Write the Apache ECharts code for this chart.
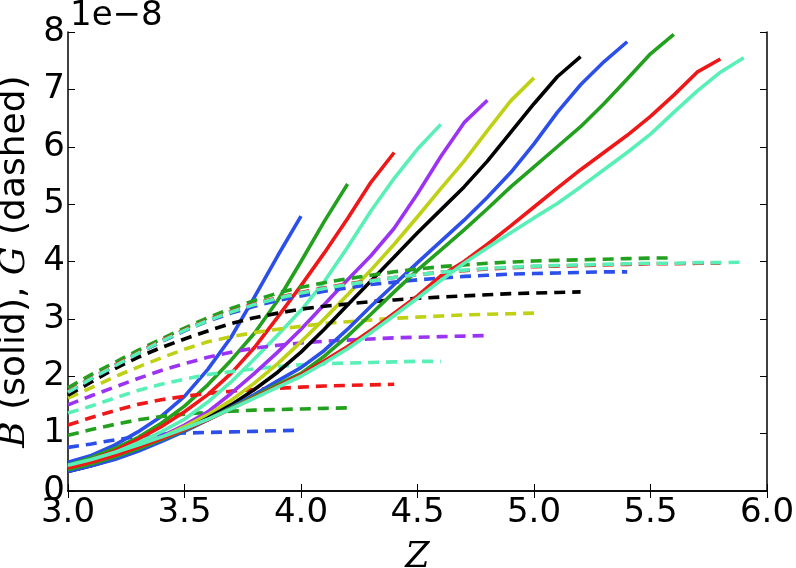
<!DOCTYPE html>
<html><head><meta charset="utf-8">
<script src="https://cdn.jsdelivr.net/npm/echarts/dist/echarts.min.js"></script>
<style>html,body{margin:0;padding:0;background:#fff}#c{width:796px;height:568px}</style>
</head><body><div id="c"></div>
<script>
// Z grid (x values)
const Z = [3.0,3.1,3.2,3.3,3.4,3.5,3.6,3.7,3.8,3.9,4.0,4.1,4.2,4.3,4.4,4.5,4.6,4.7,4.8,4.9,5.0,5.1,5.2,5.3,5.4,5.5,5.6,5.7,5.8,5.9];
const xTicks = [3.0,3.5,4.0,4.5,5.0,5.5,6.0];
const yTicks = [0,1,2,3,4,5,6,7,8];
const colors = ['#2b4fe8','#22a01e','#ee1818','#58f0b6','#9d33f2','#bfd114','#000000','#2b4fe8','#22a01e','#ee1818','#58f0b6'];

// B (solid), in units of 1e-8
const B1 = [0.50,0.62,0.80,1.03,1.30,1.65,2.12,2.68,3.38,4.10,4.79];
const B2 = [0.45,0.58,0.74,0.93,1.18,1.48,1.85,2.28,2.75,3.32,4.00,4.70,5.35];
const B3 = [0.42,0.55,0.70,0.90,1.12,1.38,1.68,2.05,2.50,3.03,3.58,4.15,4.75,5.38,5.90];
const B4 = [0.42,0.53,0.67,0.84,1.03,1.25,1.55,1.90,2.30,2.72,3.15,3.65,4.25,4.88,5.45,5.96,6.39];
const B5 = [0.40,0.50,0.63,0.78,0.95,1.15,1.38,1.70,2.05,2.42,2.82,3.25,3.68,4.10,4.58,5.18,5.83,6.42,6.81];
const B6 = [0.40,0.50,0.62,0.77,0.93,1.12,1.33,1.58,1.88,2.22,2.60,3.00,3.42,3.85,4.30,4.78,5.27,5.75,6.28,6.80,7.20];
const B7 = [0.34,0.44,0.56,0.71,0.88,1.06,1.27,1.50,1.77,2.07,2.42,2.82,3.24,3.66,4.08,4.50,4.90,5.30,5.75,6.25,6.75,7.22,7.57];
const B8 = [0.34,0.44,0.55,0.69,0.86,1.04,1.24,1.46,1.68,1.92,2.15,2.45,2.82,3.22,3.60,3.98,4.35,4.72,5.12,5.55,6.05,6.60,7.08,7.48,7.83];
const B9 = [0.37,0.47,0.59,0.73,0.89,1.06,1.25,1.45,1.65,1.86,2.05,2.35,2.70,3.08,3.47,3.85,4.20,4.55,4.92,5.30,5.65,6.00,6.35,6.75,7.18,7.62,7.96];
const B10 = [0.40,0.50,0.62,0.76,0.91,1.07,1.24,1.43,1.63,1.83,2.03,2.27,2.52,2.80,3.10,3.40,3.75,4.00,4.30,4.62,4.95,5.28,5.60,5.90,6.20,6.53,6.90,7.30,7.53];
const B11 = [0.45,0.55,0.67,0.80,0.94,1.09,1.25,1.43,1.62,1.81,2.00,2.23,2.48,2.76,3.06,3.36,3.67,3.97,4.24,4.50,4.76,5.01,5.30,5.60,5.90,6.22,6.60,6.97,7.30,7.55];

// G (dashed), in units of 1e-8
const G1 = [0.76,0.82,0.89,0.95,0.99,1.01,1.02,1.03,1.04,1.05,1.06];
const G2 = [0.97,1.07,1.16,1.24,1.30,1.34,1.37,1.39,1.41,1.42,1.43,1.44,1.45];
const G3 = [1.15,1.28,1.40,1.51,1.59,1.65,1.70,1.74,1.77,1.79,1.81,1.83,1.84,1.85,1.86];
const G4 = [1.36,1.48,1.62,1.75,1.86,1.95,2.03,2.08,2.13,2.17,2.20,2.22,2.23,2.24,2.25,2.26,2.26];
const G5 = [1.50,1.66,1.81,1.96,2.10,2.22,2.33,2.42,2.49,2.54,2.58,2.61,2.63,2.65,2.67,2.68,2.69,2.70,2.71];
const G6 = [1.62,1.80,1.99,2.16,2.32,2.47,2.60,2.69,2.76,2.82,2.87,2.92,2.95,2.98,3.01,3.03,3.05,3.07,3.08,3.09,3.10];
const G7 = [1.67,1.90,2.13,2.33,2.50,2.65,2.79,2.92,3.02,3.10,3.17,3.22,3.26,3.30,3.33,3.36,3.38,3.40,3.42,3.44,3.45,3.46,3.47];
const G8 = [1.72,1.96,2.18,2.40,2.60,2.79,2.96,3.10,3.22,3.32,3.40,3.48,3.54,3.60,3.64,3.68,3.71,3.74,3.76,3.78,3.79,3.80,3.81,3.82,3.82];
const G9 = [1.80,2.03,2.24,2.45,2.65,2.84,3.02,3.18,3.32,3.45,3.55,3.63,3.70,3.76,3.82,3.87,3.91,3.94,3.97,3.99,4.01,4.02,4.03,4.04,4.05,4.06,4.06];
const G10 = [1.73,1.97,2.19,2.41,2.62,2.81,2.98,3.13,3.26,3.37,3.46,3.54,3.61,3.67,3.72,3.77,3.81,3.84,3.87,3.89,3.91,3.92,3.93,3.94,3.95,3.96,3.96,3.97,3.97];
const G11 = [1.72,1.96,2.18,2.40,2.61,2.80,2.97,3.12,3.25,3.36,3.45,3.53,3.60,3.66,3.72,3.77,3.81,3.85,3.88,3.90,3.92,3.93,3.94,3.95,3.96,3.97,3.97,3.98,3.98,3.99];

const Bs = [B1,B2,B3,B4,B5,B6,B7,B8,B9,B10,B11];
const Gs = [G1,G2,G3,G4,G5,G6,G7,G8,G9,G10,G11];

function pts(arr){ return arr.map((v,i)=>[Z[i], v]); }

const FONT = 'DejaVu Sans';
const series = [];
for (let k = 0; k < Bs.length; k++) {
  series.push({type:'line', data:pts(Bs[k]), symbol:'none', showSymbol:false, silent:true,
    lineStyle:{color:colors[k], width:3.6}});
  series.push({type:'line', data:pts(Gs[k]), symbol:'none', showSymbol:false, silent:true,
    lineStyle:{color:colors[k], width:3.6, type:[11,7]}});
}

const axisCommon = {
  axisLine:{show:true, lineStyle:{color:'#000', width:1.5}},
  axisTick:{show:true, inside:true, length:7, lineStyle:{color:'#000', width:1}},
  splitLine:{show:false}
};

const chart = echarts.init(document.getElementById('c'), null, {renderer:'canvas'});
chart.setOption({
  animation:false,
  backgroundColor:'#fff',
  grid:{left:68, right:29, top:32, bottom:77, containLabel:false, outerBoundsMode:'none'},
  xAxis:[
    Object.assign({type:'value', min:xTicks[0], max:xTicks[xTicks.length-1], interval:0.5, position:'bottom',
      axisLabel:{show:true, fontSize:34, fontFamily:FONT, color:'#000', margin:5,
        showMinLabel:true, showMaxLabel:true, hideOverlap:false, formatter:v=>v.toFixed(1)},
      name:'{i|Z}', nameLocation:'middle', nameGap:49,
      nameTextStyle:{fontSize:35, color:'#000', rich:{i:{fontFamily:'DejaVu Serif', fontStyle:'italic', fontSize:35, color:'#000'}}}
    }, axisCommon),
    Object.assign({type:'value', min:xTicks[0], max:xTicks[xTicks.length-1], interval:0.5, position:'top',
      axisLabel:{show:false}}, axisCommon)
  ],
  yAxis:[
    Object.assign({type:'value', min:yTicks[0], max:yTicks[yTicks.length-1], interval:1, position:'left',
      axisLabel:{show:true, fontSize:34, fontFamily:FONT, color:'#000', margin:3, formatter:v=>String(v)},
      name:'{i|B} (solid), {i|G} (dashed)', nameLocation:'middle', nameGap:30, nameRotate:90,
      nameTextStyle:{fontSize:36, fontFamily:FONT, color:'#000',
        rich:{i:{fontFamily:'DejaVu Serif', fontStyle:'italic', fontSize:36, color:'#000'}}}
    }, axisCommon),
    Object.assign({type:'value', min:yTicks[0], max:yTicks[yTicks.length-1], interval:1, position:'right',
      axisLabel:{show:false}}, axisCommon)
  ],
  graphic:[{type:'text', left:70, top:-1, style:{text:'1e\u22128', fontSize:34, fontFamily:FONT, fill:'#000'}}],
  series: series
});
</script>
</body></html>
